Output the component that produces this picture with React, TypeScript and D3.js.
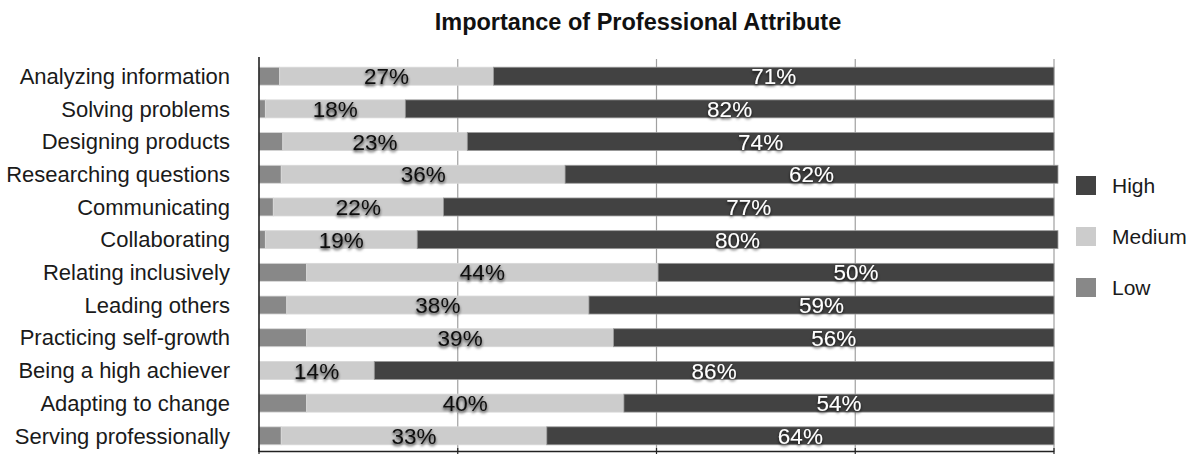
import React from "react";
import * as d3 from "d3";

const categories = [
  "Analyzing information",
  "Solving problems",
  "Designing products",
  "Researching questions",
  "Communicating",
  "Collaborating",
  "Relating inclusively",
  "Leading others",
  "Practicing self-growth",
  "Being a high achiever",
  "Adapting to change",
  "Serving professionally",
];

// segment widths (percent)
const lowValues = [2.6, 0.8, 3.0, 2.8, 1.8, 0.8, 6.0, 3.5, 6.0, 0, 6.0, 2.8];
const mediumValues = [26.9, 17.6, 23.2, 35.7, 21.4, 19.1, 44.2, 38.0, 38.6, 14.5, 39.9, 33.4];
const highValues = [70.5, 81.6, 73.8, 62.0, 76.8, 80.6, 49.8, 58.5, 55.4, 85.5, 54.1, 63.8];

// labels printed on the bars
const mediumLabels = [27, 18, 23, 36, 22, 19, 44, 38, 39, 14, 40, 33];
const highLabels = [71, 82, 74, 62, 77, 80, 50, 59, 56, 86, 54, 64];

const xTicks = [0, 25, 50, 75, 100];

const seriesKeys = ["Low", "Medium", "High"];
const colors: Record<string, string> = { Low: "#888888", Medium: "#cccccc", High: "#424242" };
const legendOrder = ["High", "Medium", "Low"];

const W = 1196;
const H = 454;
const margin = { left: 259, right: 142, top: 60, bottom: 2 };

export default function App() {
  const rows = categories.map((c, i) => ({
    category: c,
    Low: lowValues[i],
    Medium: mediumValues[i],
    High: highValues[i],
    mLabel: mediumLabels[i],
    hLabel: highLabels[i],
  }));

  const x = d3.scaleLinear().domain([0, 100]).range([margin.left, W - margin.right]);
  const y = d3
    .scaleBand()
    .domain(categories)
    .range([margin.top, H - margin.bottom])
    .paddingInner(0.45)
    .paddingOuter(0.22);

  const stack = d3.stack<any>().keys(seriesKeys);
  const series = stack(rows);

  const font = "'Liberation Sans', Arial, Helvetica, sans-serif";
  const y0 = margin.top - 1;
  const yBottom = H - margin.bottom;

  return (
    <svg
      width={W}
      height={H}
      style={{ position: "absolute", left: 0, top: 0, background: "#fff" }}
      fontFamily={font}
    >
      <defs>
        <filter id="shadow" x="-20%" y="-40%" width="140%" height="200%">
          <feDropShadow dx="0" dy="2" stdDeviation="1.8" floodColor="#000" floodOpacity="0.75" />
        </filter>
      </defs>
      <rect x={0} y={0} width={W} height={H} fill="#fff" />
      <text x={638} y={30} textAnchor="middle" fontSize={23.5} fontWeight="bold" fill="#111">
        Importance of Professional Attribute
      </text>

      {/* gridlines */}
      {xTicks.slice(1).map((t) => (
        <line key={t} x1={x(t)} x2={x(t)} y1={y0} y2={yBottom} stroke="#a0a0a0" strokeWidth={1.2} />
      ))}

      {/* bars */}
      {series.map((s) => (
        <g key={s.key} fill={colors[s.key]}>
          {s.map((d, i) => (
            <rect
              key={i}
              x={x(d[0])}
              y={y(categories[i])!}
              width={Math.max(0, x(d[1]) - x(d[0]))}
              height={y.bandwidth()}
              stroke={s.key === "High" ? "#9a9a9a" : "#d8d8d8"}
              strokeWidth={0.8}
            />
          ))}
        </g>
      ))}

      {/* axes */}
      <line x1={margin.left} x2={margin.left} y1={y0 - 2} y2={yBottom} stroke="#222" strokeWidth={1.6} />
      <line x1={margin.left} x2={x(100)} y1={yBottom - 0.5} y2={yBottom - 0.5} stroke="#222" strokeWidth={1.4} />
      {xTicks.map((t) => (
        <line key={"t" + t} x1={x(t)} x2={x(t)} y1={yBottom - 4} y2={H} stroke="#222" strokeWidth={1.2} />
      ))}

      {/* category labels */}
      {categories.map((c) => (
        <text
          key={c}
          x={230}
          y={y(c)! + y.bandwidth() / 2}
          dy="0.35em"
          textAnchor="end"
          fontSize={22}
          fill="#1a1a1a"
        >
          {c}
        </text>
      ))}

      {/* value labels */}
      {rows.map((r) => {
        const cy = y(r.category)! + y.bandwidth() / 2;
        const mx = x(r.Low + r.Medium / 2);
        const hx = x(r.Low + r.Medium + r.High / 2);
        return (
          <g key={"l" + r.category} fontSize={22.5} filter="url(#shadow)">
            <text x={mx} y={cy} dy="0.36em" textAnchor="middle" fill="#111">
              {r.mLabel}%
            </text>
            <text x={hx} y={cy} dy="0.36em" textAnchor="middle" fill="#fff">
              {r.hLabel}%
            </text>
          </g>
        );
      })}

      {/* legend */}
      {legendOrder.map((k, i) => (
        <g key={k} transform={`translate(1076, ${176 + i * 51})`}>
          <rect x={0} y={0} width={20} height={19} fill={colors[k]} />
          <text x={36} y={9.5} dy="0.36em" fontSize={21} fill="#1a1a1a">
            {k}
          </text>
        </g>
      ))}
    </svg>
  );
}
